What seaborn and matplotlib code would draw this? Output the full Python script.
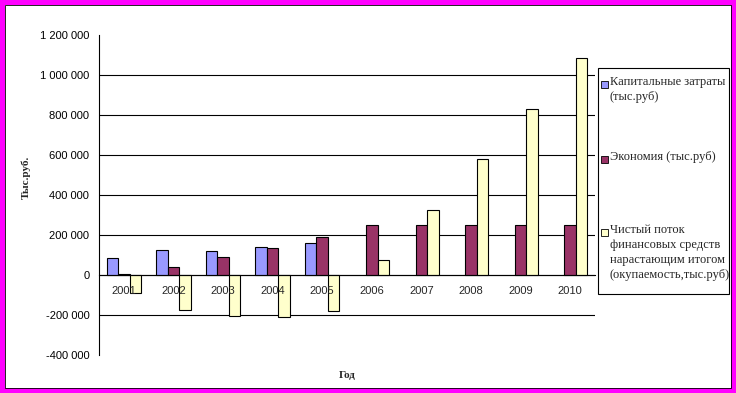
import matplotlib
matplotlib.use('Agg')
import numpy as np
import pandas as pd
import matplotlib.pyplot as plt
import seaborn as sns
from matplotlib.patches import Rectangle
from matplotlib.ticker import FuncFormatter, FixedLocator

# Data (тыс.руб)
years = ['2001', '2002', '2003', '2004', '2005', '2006', '2007', '2008', '2009', '2010']
capex = [85000, 123000, 118000, 138000, 158000, np.nan, np.nan, np.nan, np.nan, np.nan]
savings = [3000, 38000, 88000, 133000, 188000, 248000, 248000, 248000, 248000, 248000]
net_flow = [-92000, -177000, -203000, -212000, -182000, 73000, 323000, 578000, 828000, 1083000]

series_names = ['Капитальные затраты (тыс.руб)',
                'Экономия (тыс.руб)',
                'Чистый поток финансовых средств нарастающим итогом (окупаемость,тыс.руб)']
legend_labels = ['Капитальные затраты\n(тыс.руб)',
                 'Экономия (тыс.руб)',
                 'Чистый поток\nфинансовых средств\nнарастающим итогом\n(окупаемость,тыс.руб)']
colors = ['#9999FF', '#993366', '#FFFFCC']

df = pd.DataFrame({
    'Год': years * 3,
    'value': capex + savings + net_flow,
    'series': [series_names[0]] * 10 + [series_names[1]] * 10 + [series_names[2]] * 10,
})

sns.set_style('white')
plt.rcParams['font.family'] = ['Liberation Sans', 'DejaVu Sans']

fig = plt.figure(figsize=(7.36, 3.93), dpi=100)
ax = fig.add_axes([99/736, 1 - 355/393, (595-99)/736, (355-35)/393])

sns.barplot(data=df, x='Год', y='value', hue='series', order=years,
            hue_order=series_names, palette=colors, saturation=1,
            width=0.69, edgecolor='black', linewidth=0.8, legend=False, ax=ax)

# y axis
yticks = list(range(-400000, 1200001, 200000))
ax.set_ylim(-400000, 1200000)
ax.set_yticks(yticks)
ax.yaxis.set_major_formatter(FuncFormatter(lambda v, p: f"{v:,.0f}".replace(',', ' ')))
ax.tick_params(axis='y', length=3, width=0.8, direction='out', labelsize=8, pad=4, colors='black')

# gridlines behind the bars (not at the axis limits), axis labels above the bars
ax.grid(False)
for y in yticks[1:-1]:
    ax.axhline(y, color='black', linewidth=0.8, zorder=0.5)
ax.set_axisbelow(False)

# x axis crossing at zero
ax.set_xlim(-0.5, 9.5)
ax.spines['bottom'].set_position(('data', 0))
ax.spines['top'].set_visible(False)
ax.spines['right'].set_visible(False)
for s in ['bottom', 'left']:
    ax.spines[s].set_color('black')
    ax.spines[s].set_linewidth(0.8)
ax.xaxis.set_minor_locator(FixedLocator(np.arange(-0.5, 10, 1)))
ax.tick_params(axis='x', which='major', length=0, labelsize=8, pad=8)
ax.tick_params(axis='x', which='minor', length=3, width=0.8, direction='out', color='black')
ax.set_xlabel('')
ax.set_ylabel('')

serif = ['Liberation Serif', 'DejaVu Serif']
fig.text(26/736, 1 - 177/393, 'Тыс.руб.', rotation=90, ha='center', va='center',
         fontsize=8, fontweight='bold', family=serif)
fig.text(347/736, 1 - 376/393, 'Год', ha='center', va='center',
         fontsize=8, fontweight='bold', family=serif)

# legend box drawn to match the reference layout
fig.add_artist(Rectangle((597.5/736, 1 - 294/393), (729-597.5)/736, (294-68)/393,
                         transform=fig.transFigure, fill=False, edgecolor='black', linewidth=0.8))
legend_y = [84, 159, 232]
for lab, col, yy in zip(legend_labels, colors, legend_y):
    fig.add_artist(Rectangle((601/736, 1 - (yy + 3.5)/393), 6.5/736, 6.5/393,
                             transform=fig.transFigure, facecolor=col,
                             edgecolor='black', linewidth=0.6))
    fig.text(610/736, 1 - (yy - 8)/393, lab, ha='left', va='top', fontsize=9,
             family=serif, linespacing=1.35)

# magenta frame
fig.add_artist(Rectangle((0, 0), 1, 1, transform=fig.transFigure, fill=False,
                         edgecolor='#FF00FF', linewidth=7.2))
fig.add_artist(Rectangle((5/736, 5/393), 1 - 10/736, 1 - 10/393, transform=fig.transFigure,
                         fill=False, edgecolor='black', linewidth=0.6))

fig.savefig('out.png', dpi=100)
